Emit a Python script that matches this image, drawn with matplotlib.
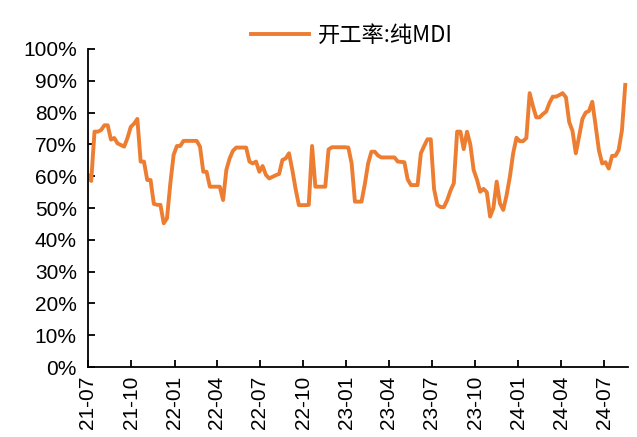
# 纯MDI 开工率 周度折线图
import matplotlib
matplotlib.use('Agg')
import matplotlib.pyplot as plt
import matplotlib.dates as mdates
from matplotlib.ticker import MultipleLocator, PercentFormatter
import pandas as pd

matplotlib.rcParams['font.family'] = ['Liberation Sans', 'Noto Sans CJK SC', 'DejaVu Sans']

# 周度数据（%），自 2021-07-01 起
start_date = '2021-07-01'
rate = [60.4, 58.5, 74.0, 74.0, 74.5, 76.0, 76.0, 71.5, 72.0, 70.3,
        69.8, 69.3, 72.0, 75.5, 76.5, 78.0, 64.6, 64.6, 58.8, 58.8,
        51.3, 51.0, 51.0, 45.2, 46.8, 57.7, 66.7, 69.5, 69.5, 71.1,
        71.1, 71.1, 71.1, 71.1, 69.3, 61.4, 61.4, 56.7, 56.7, 56.7,
        56.7, 52.5, 62.0, 65.6, 68.0, 69.0, 69.0, 69.0, 69.0, 64.6,
        64.0, 64.6, 61.4, 63.2, 60.4, 59.3, 59.8, 60.3, 60.7, 65.1,
        65.6, 67.2, 62.0, 56.0, 50.9, 50.9, 50.9, 51.0, 69.5, 56.7,
        56.7, 56.7, 56.7, 68.4, 69.1, 69.1, 69.1, 69.1, 69.1, 69.0,
        64.0, 52.0, 52.0, 52.0, 57.5, 64.0, 67.7, 67.7, 66.5, 65.9,
        65.9, 65.9, 65.9, 65.9, 64.6, 64.5, 64.4, 59.0, 57.2, 57.2,
        57.2, 67.2, 69.5, 71.6, 71.6, 56.0, 51.0, 50.3, 50.3, 52.5,
        55.5, 57.8, 74.0, 74.0, 68.5, 74.0, 70.0, 62.0, 59.0, 55.1,
        56.0, 55.0, 47.3, 50.0, 58.3, 51.4, 49.4, 54.0, 59.8, 67.2,
        72.1, 71.0, 71.0, 72.0, 86.1, 82.0, 78.5, 78.5, 79.5, 80.3,
        83.0, 85.0, 85.0, 85.5, 86.1, 84.8, 77.0, 74.2, 67.2, 72.5,
        78.0, 80.0, 80.5, 83.4, 76.0, 68.2, 64.0, 64.4, 62.4, 66.4,
        66.4, 68.2, 74.5, 88.7]
dates = pd.date_range(start_date, periods=len(rate), freq='7D')

fig = plt.figure(figsize=(6.37, 4.37), dpi=100)
ax = fig.add_axes([0.138, 0.160, 0.848, 0.728])
ax.plot(dates, rate, color='#ED7D31', linewidth=2.8, label='开工率:纯MDI')

ax.set_ylim(0, 100)
ax.yaxis.set_major_locator(MultipleLocator(10))
ax.yaxis.set_major_formatter(PercentFormatter(decimals=0))
ax.set_xlim(dates[0], dates[-1] + pd.Timedelta(days=6))
ax.xaxis.set_major_locator(mdates.MonthLocator(bymonth=[1, 4, 7, 10]))
ax.xaxis.set_major_formatter(mdates.DateFormatter('%y-%m'))

for s in ['top', 'right']:
    ax.spines[s].set_visible(False)
for s in ['left', 'bottom']:
    ax.spines[s].set_linewidth(1.3)
    ax.spines[s].set_color('black')
ax.tick_params(axis='both', direction='in', length=5, width=1.3, labelsize=15, colors='black')
ax.tick_params(axis='x', rotation=90, pad=6)
ax.tick_params(axis='y', pad=8)

fig.legend(loc='center', bbox_to_anchor=(0.552, 0.92), frameon=False, handlelength=2.6,
           handletextpad=0.4, prop={'family': ['Noto Sans CJK SC', 'DejaVu Sans'], 'size': 16})

fig.savefig('out.png', dpi=100)
